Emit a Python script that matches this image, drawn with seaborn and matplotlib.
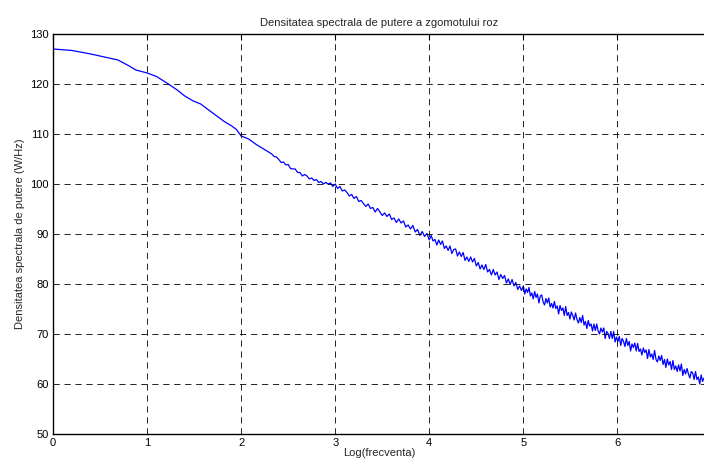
import numpy as np
import pandas as pd
import seaborn as sns
import matplotlib
matplotlib.use("Agg")
import matplotlib.pyplot as plt

# ---- data ----
x_low = [0.00, 0.20, 0.40, 0.69, 0.80, 0.88, 1.00, 1.10, 1.21, 1.32, 1.40, 1.49,
         1.57, 1.64, 1.72, 1.82, 1.90, 1.95, 2.00, 2.08, 2.16, 2.24, 2.30]
y_low = [127.0, 126.7, 126.0, 124.8, 123.7, 122.8, 122.2, 121.5, 120.2, 118.8, 117.6, 116.6,
         116.0, 115.0, 113.9, 112.5, 111.6, 110.9, 109.6, 109.0, 107.9, 107.0, 106.3]

x_mid = [2.325, 2.350, 2.375, 2.400, 2.425, 2.450, 2.475, 2.500, 2.525, 2.550, 2.575, 2.600,
         2.625, 2.650, 2.675, 2.700, 2.725, 2.750, 2.775, 2.800, 2.825, 2.850, 2.875, 2.900,
         2.925, 2.950, 2.975, 3.000, 3.025, 3.050, 3.075, 3.100, 3.125, 3.150, 3.175, 3.200,
         3.225, 3.250, 3.275, 3.300, 3.325, 3.350, 3.375, 3.400, 3.425, 3.450, 3.475, 3.500,
         3.525, 3.550, 3.575, 3.600, 3.625, 3.650, 3.675, 3.700, 3.725, 3.750, 3.775, 3.800,
         3.825, 3.850, 3.875, 3.900, 3.925, 3.950, 3.975]
y_mid = [106.0, 105.5, 105.4, 104.9, 104.3, 104.4, 103.8, 103.9, 103.1, 103.0, 103.0, 102.3,
         102.3, 101.6, 101.9, 101.6, 101.0, 101.2, 100.7, 100.9, 100.3, 100.5, 100.0, 100.3,
         100.0, 100.2, 99.5, 100.0, 99.1, 99.5, 98.6, 98.8, 98.3, 97.6, 97.9, 97.1,
         97.5, 96.5, 96.7, 96.1, 95.5, 96.0, 95.1, 95.3, 94.4, 95.1, 94.4, 93.7,
         94.2, 93.5, 94.0, 92.9, 93.2, 92.3, 93.0, 92.2, 92.6, 91.4, 91.8, 91.0,
         91.7, 90.4, 90.9, 89.7, 90.5, 89.5, 90.1]

x_high = [4.00, 4.02, 4.04, 4.06, 4.08, 4.10, 4.12, 4.14, 4.16, 4.18, 4.20, 4.22, 4.24, 4.26,
          4.28, 4.30, 4.32, 4.34, 4.36, 4.38, 4.40, 4.42, 4.44, 4.46, 4.48, 4.50, 4.52, 4.54,
          4.56, 4.58, 4.60, 4.62, 4.64, 4.66, 4.68, 4.70, 4.72, 4.74, 4.76, 4.78, 4.80, 4.82,
          4.84, 4.86, 4.88, 4.90, 4.92, 4.94, 4.96, 4.98]
y_high = [88.8, 89.7, 88.6, 88.9, 87.8, 88.8, 87.9, 88.6, 87.1, 87.6, 86.7, 87.6, 86.1, 86.9,
          87.0, 85.6, 86.4, 85.5, 86.3, 84.7, 85.4, 84.5, 85.4, 84.4, 85.1, 83.6, 84.3, 83.0,
          83.8, 82.9, 83.9, 82.4, 82.9, 81.8, 82.9, 81.8, 82.4, 80.9, 81.9, 81.1, 81.7, 80.2,
          81.0, 79.9, 80.9, 79.6, 80.3, 78.9, 79.6, 78.7]

x_top = [5.000, 5.015, 5.030, 5.045, 5.060, 5.075, 5.090, 5.105, 5.120, 5.135,
         5.150, 5.165, 5.180, 5.195, 5.210, 5.225, 5.240, 5.255, 5.270, 5.285,
         5.300, 5.315, 5.330, 5.345, 5.360, 5.375, 5.390, 5.405, 5.420, 5.435,
         5.450, 5.465, 5.480, 5.495, 5.510, 5.525, 5.540, 5.555, 5.570, 5.585,
         5.600, 5.615, 5.630, 5.645, 5.660, 5.675, 5.690, 5.705, 5.720, 5.735,
         5.750, 5.765, 5.780, 5.795, 5.810, 5.825, 5.840, 5.855, 5.870, 5.885,
         5.900, 5.915, 5.930, 5.945, 5.960, 5.975, 5.990, 6.005, 6.020, 6.035,
         6.050, 6.065, 6.080, 6.095, 6.110, 6.125, 6.140, 6.155, 6.170, 6.185,
         6.200, 6.215, 6.230, 6.245, 6.260, 6.275, 6.290, 6.305, 6.320, 6.335,
         6.350, 6.365, 6.380, 6.395, 6.410, 6.425, 6.440, 6.455, 6.470, 6.485,
         6.500, 6.515, 6.530, 6.545, 6.560, 6.575, 6.590, 6.605, 6.620, 6.635,
         6.650, 6.665, 6.680, 6.695, 6.710, 6.725, 6.740, 6.755, 6.770, 6.785,
         6.800, 6.815, 6.830, 6.845, 6.860, 6.875, 6.890, 6.905, 6.920]
y_top = [79.6, 78.0, 79.0, 78.3, 79.3, 77.6, 78.2, 77.0, 78.5, 77.3,
         78.0, 76.2, 77.6, 77.8, 76.4, 75.8, 77.1, 76.2, 77.2, 75.4,
         76.1, 75.2, 76.5, 75.1, 75.6, 74.0, 75.7, 74.7, 75.2, 73.7,
         75.5, 73.7, 74.3, 73.0, 74.4, 73.7, 72.8, 74.2, 72.9, 72.2,
         73.3, 72.3, 73.7, 71.8, 72.5, 71.1, 72.7, 71.6, 72.0, 70.6,
         72.0, 70.7, 72.0, 70.6, 70.0, 71.2, 70.4, 71.2, 69.1, 70.5,
         70.1, 69.1, 70.5, 69.1, 70.5, 68.4, 69.4, 68.5, 69.5, 67.7,
         69.1, 68.5, 67.5, 69.1, 67.7, 68.5, 66.6, 68.0, 67.3, 68.2,
         66.6, 68.1, 66.5, 67.0, 65.8, 67.2, 66.3, 66.8, 65.1, 66.9,
         65.4, 66.0, 64.9, 66.7, 64.9, 64.4, 65.6, 64.7, 65.7, 63.9,
         64.9, 63.3, 65.0, 63.8, 64.5, 62.9, 64.7, 62.9, 63.6, 62.5,
         63.8, 62.6, 64.0, 61.7, 62.9, 62.0, 63.1, 62.0, 61.2, 62.5,
         62.2, 60.9, 62.5, 60.9, 61.4, 60.0, 61.8, 60.5, 61.2]

x_ticks = [0, 1, 2, 3, 4, 5, 6]
y_ticks = [50, 60, 70, 80, 90, 100, 110, 120, 130]
x_max = 6.9315

title = "Densitatea spectrala de putere a zgomotului roz"
xlabel = "Log(frecventa)"
ylabel = "Densitatea spectrala de putere (W/Hz)"

df = pd.DataFrame({"x": x_low + x_mid + x_high + x_top,
                   "y": y_low + y_mid + y_high + y_top})

# ---- drawing ----
sns.set_style("white")
plt.rcParams["font.family"] = ["Liberation Sans", "DejaVu Sans"]
plt.rcParams["lines.scale_dashes"] = False

fig = plt.figure(figsize=(7.04, 4.66), dpi=100)
ax = fig.add_axes([0.0753, 0.0687, 0.9262, 0.8584])

sns.lineplot(data=df, x="x", y="y", ax=ax, color="#0000ff", linewidth=0.9,
             estimator=None, sort=False)

ax.set_xlim(0, x_max)
ax.set_ylim(50, 130)
ax.set_xticks(x_ticks)
ax.set_yticks(y_ticks)
ax.set_xticklabels([str(t) for t in x_ticks])
ax.set_yticklabels([str(t) for t in y_ticks])

ax.grid(True, color="black", linestyle=(0, (4.5, 3.4)), linewidth=0.6)
ax.set_axisbelow(False)
ax.tick_params(direction="in", length=4, width=0.8, labelsize=8, colors="black",
               top=True, right=False, pad=3)
for side in ["left", "bottom", "top"]:
    ax.spines[side].set_color("black")
    ax.spines[side].set_linewidth(1.0)
ax.spines["right"].set_visible(False)

ax.set_title(title, fontsize=8, pad=6)
ax.set_xlabel(xlabel, fontsize=8, labelpad=0)
ax.set_ylabel(ylabel, fontsize=8, labelpad=4)

fig.savefig("out.png", dpi=100)
